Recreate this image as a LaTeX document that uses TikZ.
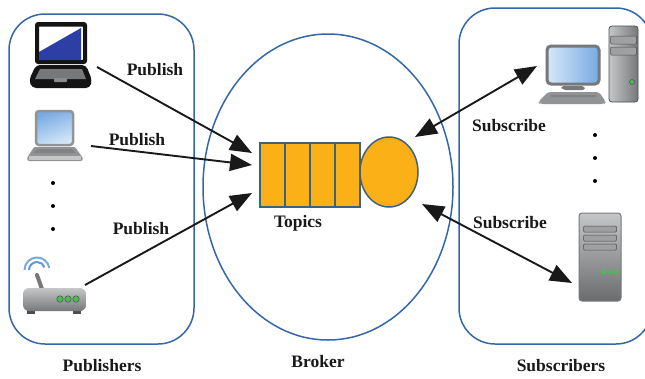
\documentclass[tikz,border=0pt]{standalone}
\usepackage{fontspec}
\setmainfont{Liberation Serif}
\usetikzlibrary{arrows.meta,shadings}
\definecolor{framecol}{RGB}{52,103,168}
\definecolor{qfill}{RGB}{251,176,24}
\definecolor{qedge}{RGB}{62,98,120}
\definecolor{scrblue}{RGB}{45,62,165}
\definecolor{skyA}{RGB}{214,232,248}
\definecolor{skyB}{RGB}{120,170,226}
\definecolor{greyA}{RGB}{196,198,200}
\definecolor{greyB}{RGB}{118,120,122}
\definecolor{greyC}{RGB}{75,77,80}
\definecolor{led}{RGB}{72,190,80}
\tikzset{
  frame/.style={draw=framecol,line width=1.5pt},
  qcell/.style={draw=qedge,fill=qfill,line width=1.5pt,minimum width=25pt,minimum height=64pt,inner sep=0pt,outer sep=0pt},
  lbl/.style={font=\bfseries\fontsize{17.5}{19}\selectfont,inner sep=0pt,text=black!90},
  conn/.style={draw=black!90,line width=1.9pt},
  head/.style={-{Triangle[length=22pt,width=17pt]}},
  both/.style={{Triangle[length=22pt,width=17pt]}-{Triangle[length=22pt,width=17pt]}},
  dotm/.style={circle,fill=black,inner sep=0pt,minimum size=4pt},
  metal/.style={top color=greyA,bottom color=greyB,draw=greyB,line width=.6pt},
  slot/.style={draw=greyC,fill=greyB!70!white,line width=.5pt,rounded corners=1pt},
  ledm/.style={circle,fill=led,draw=greyC,line width=.5pt,inner sep=0pt,minimum size=6.5pt}
}
\begin{document}
\begin{tikzpicture}[x=1pt,y=-1pt]
\useasboundingbox (0,0) rectangle (645,378);
\clip (0,0) rectangle (645,378);
% containers
\draw[frame,rounded corners=36pt] (9,14) rectangle (194,344);
\draw[frame,rounded corners=36pt] (459,8) rectangle (652,344);
\draw[frame] (328,187) ellipse [x radius=125,y radius=153];
% queue
\node[qcell] (q1) at (272.5,175) {};
\node[qcell] (q2) at (297.5,175) {};
\node[qcell] (q3) at (322.5,175) {};
\node[qcell] (q4) at (347.5,175) {};
\draw[draw=qedge,fill=qfill,line width=1.5pt] (389,172) ellipse [x radius=29,y radius=35];
% laptop black
\fill[black!92,rounded corners=3pt] (35,22) rectangle (87,64);
\draw[black!92,line width=3pt,rounded corners=2pt,fill=white] (37.5,25) rectangle (84.5,61.5);
\fill[scrblue] (39,52) -- (81,28) -- (81,60) -- (39,60) -- cycle;
\fill[black!92,rounded corners=4pt] (36,65) -- (86,65) -- (92,80) -- (90,88) -- (32,88) -- (29,80) -- cycle;
\fill[greyB] (40,69) -- (82,69) -- (86,79) -- (35,79) -- cycle;
\fill[greyA!70!black,rounded corners=1pt] (54,78) rectangle (67,82);
% laptop grey
\draw[greyB!80!white,line width=2.5pt,rounded corners=3pt,top color=skyB,bottom color=skyA,shading angle=20] (36,111) rectangle (73,145);
\fill[greyB!80!white,rounded corners=1pt] (34,147) -- (75,147) -- (83,158) -- (82,161) -- (28,161) -- (27,158) -- cycle;
\fill[greyC!70!white] (37,149) -- (72,149) -- (76,153) -- (33,153) -- cycle;
\fill[greyA] (29,156) rectangle (81,160);
% router
\draw[greyB,line width=4pt,line cap=round] (37,275) -- (42,289);
\draw[skyB!70!framecol,line width=2pt] (29,270) arc[start angle=180,end angle=20,radius=8pt];
\draw[skyB,line width=2pt] (24.5,270) arc[start angle=180,end angle=10,radius=12.5pt];
\fill[greyC] (27,310) rectangle (35,313.5);
\fill[greyC] (73,310) rectangle (81,313.5);
\path[metal,rounded corners=6pt,draw=none] (23,288) rectangle (86,311);
\node[ledm] (l1) at (60,299) {};
\node[ledm] (l2) at (68,299) {};
\node[ledm] (l3) at (76,299) {};
% desktop
\draw[greyB,line width=3pt,rounded corners=4pt,left color=skyA,right color=skyB] (547,46) rectangle (599,84);
\fill[greyB] (563,86) -- (582,86) -- (585,88) -- (583,90) -- (565,90) -- (561,88) -- cycle;
\fill[greyB!80!white,rounded corners=3pt] (548,92) -- (599,92) -- (606,102) -- (604,104) -- (540,104) -- (538,102) -- cycle;
\fill[greyC!70!white] (551,95) rectangle (596,97);
\path[rounded corners=3pt,left color=greyA,right color=greyB,draw=greyC,line width=.8pt] (609,26) rectangle (638,102);
\node[slot,minimum width=26pt,minimum height=8pt,inner sep=0pt] (t1) at (623.5,40) {};
\node[slot,minimum width=26pt,minimum height=8pt,inner sep=0pt] (t2) at (623.5,51) {};
\node[ledm,minimum size=5pt] (t3) at (632,82) {};
% server
\path[rounded corners=3pt,top color=greyA,bottom color=greyB!90!black,draw=greyB,line width=1pt] (579,213) rectangle (621,301);
\node[slot,minimum width=33pt,minimum height=6pt,inner sep=0pt] (s1) at (600,229) {};
\node[slot,minimum width=33pt,minimum height=6pt,inner sep=0pt] (s2) at (600,238) {};
\node[slot,minimum width=33pt,minimum height=6pt,inner sep=0pt] (s3) at (600,247) {};
\node[circle,fill=led,inner sep=0pt,minimum size=4.5pt] (s4) at (604,272) {};
\node[circle,fill=led,inner sep=0pt,minimum size=4.5pt] (s5) at (610,272) {};
\node[circle,fill=led,inner sep=0pt,minimum size=4.5pt] (s6) at (616,272) {};
% dots
\node[dotm] (d1) at (53,183) {};
\node[dotm] (d2) at (53,206) {};
\node[dotm] (d3) at (53,229) {};
\node[dotm] (d4) at (595,135) {};
\node[dotm] (d5) at (595,158) {};
\node[dotm] (d6) at (595,181) {};
% connector ends
\coordinate (pubA) at (97,67);
\coordinate (pubB) at (91,146);
\coordinate (pubC) at (85,285);
\coordinate (tipA) at (252,153);
\coordinate (tipB) at (252,165);
\coordinate (tipC) at (252,193);
\coordinate (subA) at (415,137);
\coordinate (desk) at (537,66);
\coordinate (subB) at (422,204);
\coordinate (serv) at (572,283);
\draw[conn,head] (pubA) -- (tipA);
\draw[conn,head] (pubB) -- (tipB);
\draw[conn,head] (pubC) -- (tipC);
\draw[conn,both] (subA) -- (desk);
\draw[conn,both] (subB) -- (serv);
% labels
\node[lbl] (p1) at (155,70) {Publish};
\node[lbl] (p2) at (137,140) {Publish};
\node[lbl] (p3) at (141,229) {Publish};
\node[lbl] (s1l) at (509,126) {Subscribe};
\node[lbl] (s2l) at (510,223) {Subscribe};
\node[lbl] (top) at (298,223) {Topics};
\node[lbl] (pubs) at (102,366) {Publishers};
\node[lbl] (brk) at (318,362) {Broker};
\node[lbl] (subs) at (561,366) {Subscribers};
\end{tikzpicture}
\end{document}
